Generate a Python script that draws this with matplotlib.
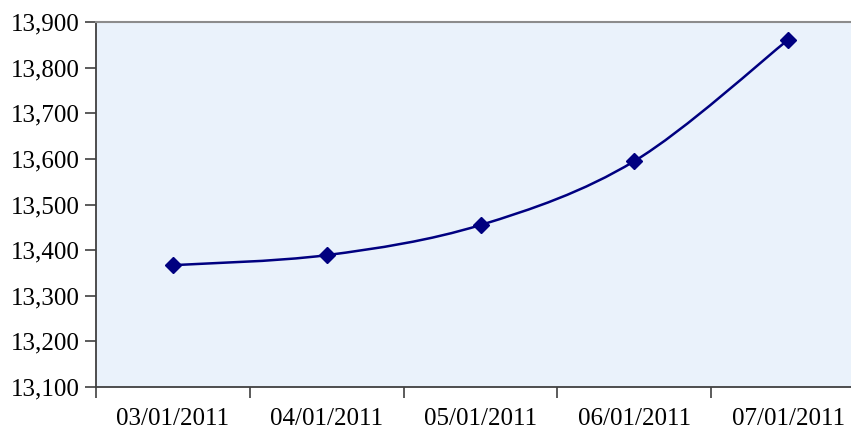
import numpy as np
import matplotlib
matplotlib.use("Agg")
import matplotlib.pyplot as plt
from matplotlib.path import Path
from matplotlib.patches import PathPatch
from matplotlib.ticker import FuncFormatter

dates = ["03/01/2011", "04/01/2011", "05/01/2011", "06/01/2011", "07/01/2011"]
values = [13367, 13389, 13455, 13595, 13861]

plt.rcParams['font.family'] = ['Liberation Serif', 'DejaVu Serif']

fig = plt.figure(figsize=(8.51, 4.36), dpi=100)
# plot area runs past the right edge of the picture, like the source
ax = fig.add_axes([96 / 851, 1 - 387 / 436, 769 / 851, 365 / 436])
ax.set_facecolor('#eaf2fb')

x = np.arange(len(values), dtype=float)
y = np.array(values, dtype=float)

# smoothed line (catmull-rom style bezier, like a spreadsheet smooth line)
verts = [(x[0], y[0])]
codes = [Path.MOVETO]
t = 1 / 6
for i in range(len(x) - 1):
    p0 = (x[i - 1], y[i - 1]) if i > 0 else (x[i], y[i])
    p1 = (x[i], y[i])
    p2 = (x[i + 1], y[i + 1])
    p3 = (x[i + 2], y[i + 2]) if i + 2 < len(x) else (x[i + 1], y[i + 1])
    c1 = (p1[0] + (p2[0] - p0[0]) * t, p1[1] + (p2[1] - p0[1]) * t)
    c2 = (p2[0] - (p3[0] - p1[0]) * t, p2[1] - (p3[1] - p1[1]) * t)
    verts += [c1, c2, p2]
    codes += [Path.CURVE4] * 3
ax.add_patch(PathPatch(Path(verts, codes), facecolor='none', edgecolor='#000080', lw=1.8))
ax.plot(x, y, linestyle='none', marker='D', markersize=8, color='#000080')

ax.set_xlim(-0.5, len(values) - 0.5)
ax.set_ylim(13100, 13900)
ax.set_yticks(np.arange(13100, 13901, 100))
ax.yaxis.set_major_formatter(FuncFormatter(lambda v, p: f"{int(v):,}"))
ax.set_xticks(x)
ax.set_xticklabels(dates)
ax.set_xticks(np.arange(-0.5, len(values), 1.0), minor=True)
ax.tick_params(axis='x', which='major', length=0, pad=15, labelsize=18)
ax.tick_params(axis='x', which='minor', length=8, width=1.2, color='#404040')
ax.tick_params(axis='y', length=8, width=1.2, color='#404040', labelsize=18, pad=4)

ax.spines['top'].set_color('#8c8c8c')
ax.spines['top'].set_linewidth(1.5)
ax.spines['left'].set_color('#404040')
ax.spines['left'].set_linewidth(1.3)
ax.spines['bottom'].set_color('#404040')
ax.spines['bottom'].set_linewidth(1.3)
ax.spines['right'].set_visible(False)

fig.savefig("out.png", dpi=100)
